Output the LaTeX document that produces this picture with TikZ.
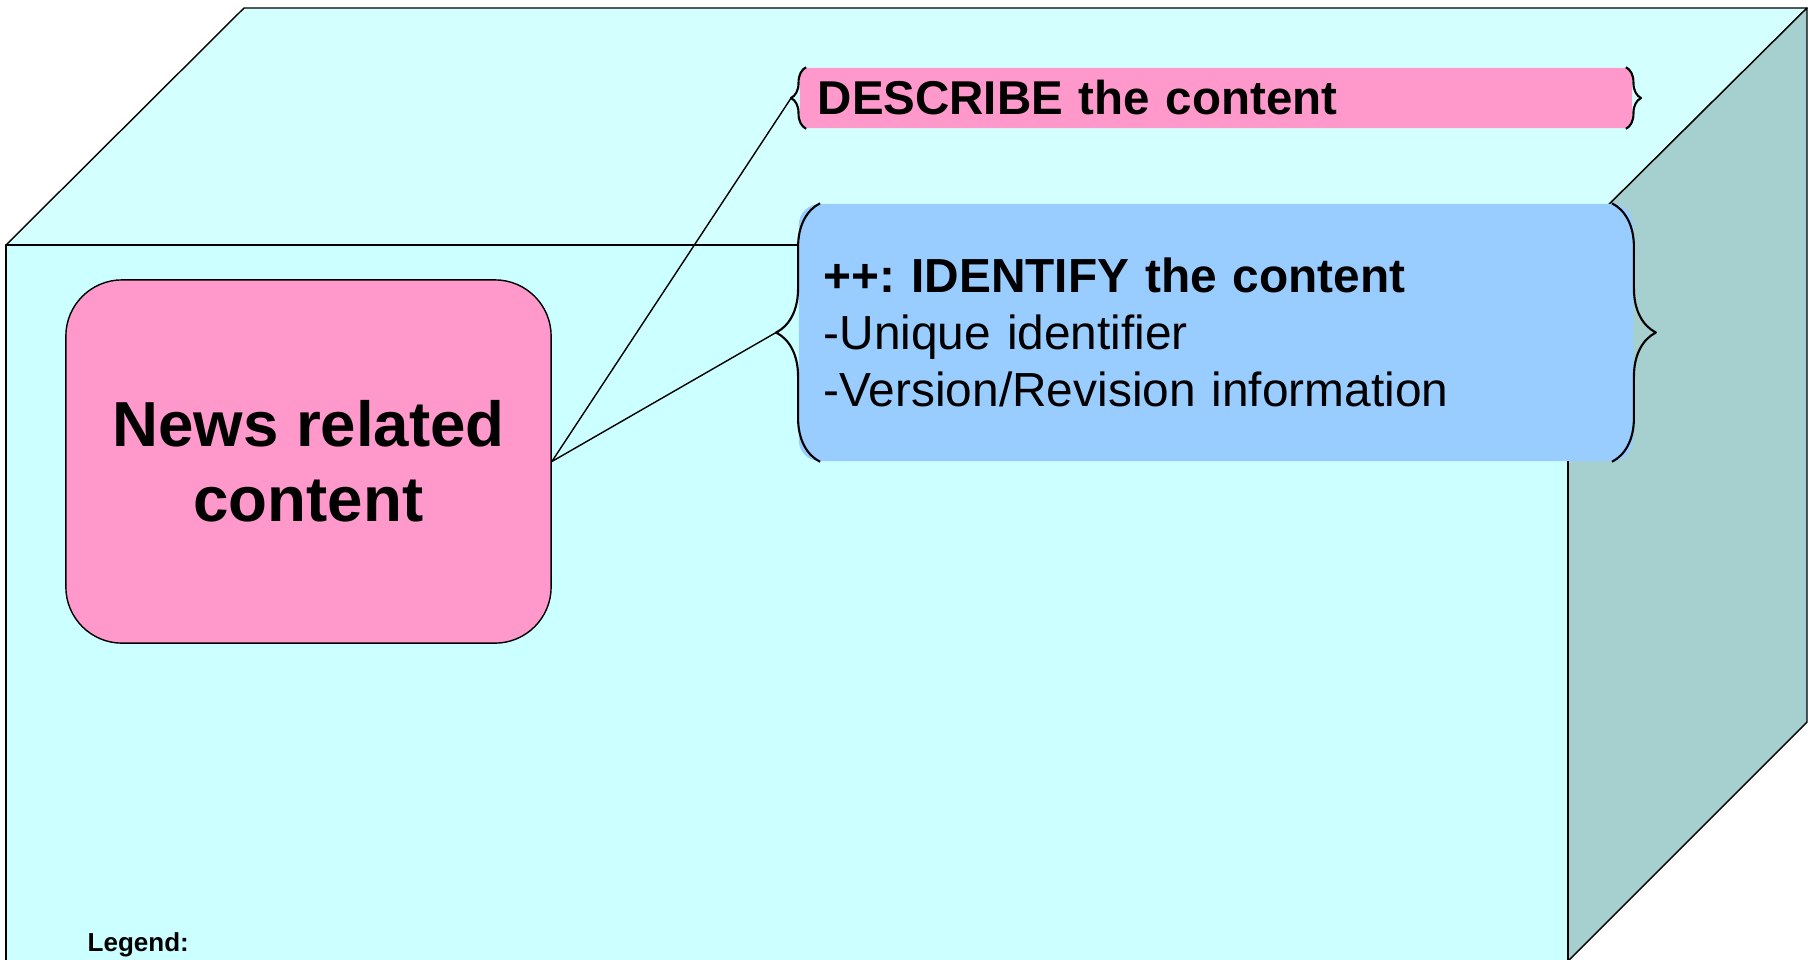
\documentclass[tikz,border=0pt]{standalone}
\usepackage{fontspec}
\setmainfont{Liberation Sans}
\usepackage{xcolor}
\usetikzlibrary{calc,decorations.pathreplacing}
\definecolor{frontcyan}{HTML}{CCFFFF}
\definecolor{topcyan}{HTML}{D4FFFF}
\definecolor{sidecyan}{HTML}{A6CFCF}
\definecolor{newspink}{HTML}{FF99CC}
\definecolor{identblue}{HTML}{99CCFF}
\frenchspacing

\begin{document}
\begin{tikzpicture}[x=0.01cm,y=-0.01cm,line join=round,thin]
  \tikzstyle{face}=[draw=black,thin]
  \tikzstyle{newsbox}=[draw,thin,fill=newspink,rounded corners=16pt,
    minimum width=138pt,minimum height=103.3pt,align=center,
    font=\fontsize{18.1}{21.3}\selectfont\bfseries]
  \tikzstyle{descbox}=[fill=newspink,rounded corners=2pt,minimum width=236.7pt,
    minimum height=17.1pt,inner xsep=5.1pt,inner ysep=0pt,text width=226.5pt,
    align=left,font=\fontsize{13.5}{16.2}\selectfont\bfseries]
  \tikzstyle{identbox}=[fill=identblue,rounded corners=6pt,minimum width=237.3pt,
    minimum height=73.1pt,inner xsep=7.1pt,inner ysep=0pt,text width=223.1pt,
    align=left,font=\fontsize{13.6}{16.2}\selectfont]
  \tikzstyle{smallbrace}=[draw,line width=0.6pt,decorate,decoration={brace,amplitude=4.3pt}]
  \tikzstyle{bigbrace}=[draw,line width=0.6pt,decorate,decoration={brace,amplitude=12.5pt}]

  \useasboundingbox (0,0) rectangle (1808,959);
  \clip (0,0) rectangle (1808,959);

  % the box
  \draw[face,fill=topcyan]  (6,245) -- (244,8) -- (1807,8) -- (1568,245) -- cycle;
  \draw[face,fill=sidecyan] (1568,245) -- (1807,8) -- (1807,722) -- (1568,961) -- cycle;
  \draw[face,fill=frontcyan] (6,245) rectangle (1568,961);

  \node[newsbox]  (news)  at (308.5,461.5) {News related\\content};
  \node[descbox]  (desc)  at (1216,98)     {DESCRIBE the content};
  \node[identbox] (ident) at (1216,332.5)  {\textbf{++: IDENTIFY the content}\\-Unique identifier\\-Version/Revision information};
  \node[anchor=base west,inner sep=0pt,font=\fontsize{7.4}{9}\selectfont\bfseries] (legend) at (87,951) {Legend:};

  % braces
  \draw[smallbrace] ($(desc.south west)+(7,0)$) -- ($(desc.north west)+(7,0)$);
  \draw[smallbrace] ($(desc.north east)+(-7,0)$) -- ($(desc.south east)+(-7,0)$);
  \draw[bigbrace] ($(ident.south west)+(22,0)$) -- ($(ident.north west)+(22,0)$);
  \draw[bigbrace] ($(ident.north east)+(-22,0)$) -- ($(ident.south east)+(-22,0)$);

  \coordinate (desctip)  at ($(desc.west)+(-8,0)$);
  \coordinate (identtip) at ($(ident.west)+(-22,0)$);

  \path
  (news.east) edge (desctip)
  (news.east) edge (identtip)
  ;
\end{tikzpicture}
\end{document}
